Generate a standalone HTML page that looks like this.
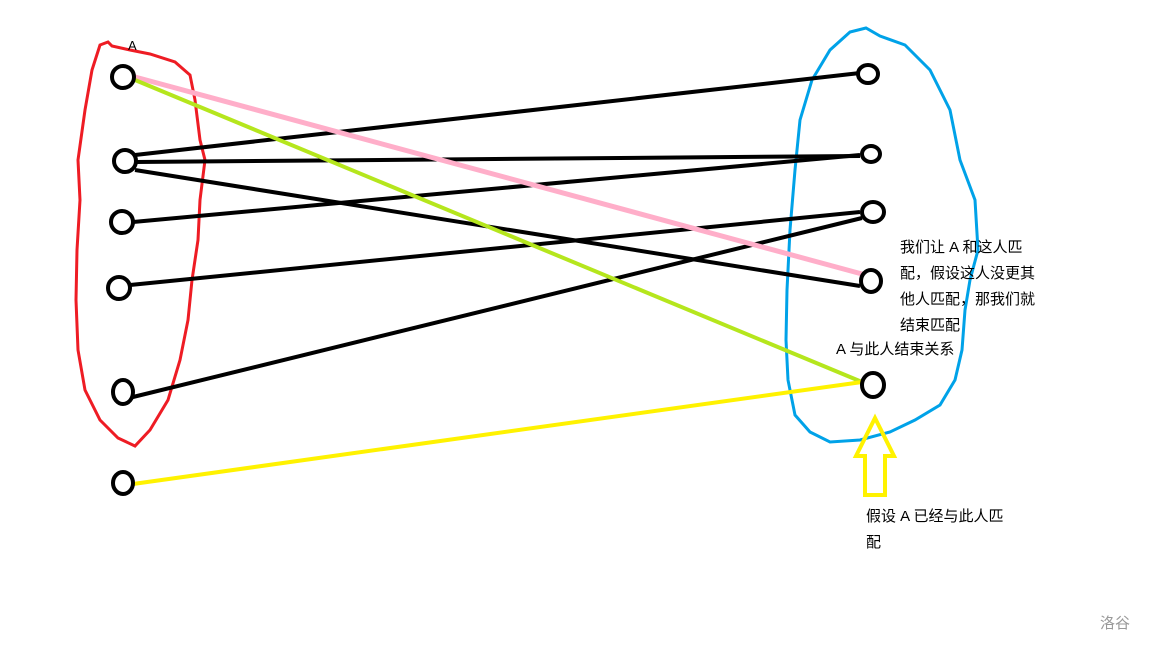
<!DOCTYPE html>
<html><head><meta charset="utf-8"><style>body{margin:0;background:#fff}svg{display:block}text{font-family:"Liberation Sans","Noto Sans CJK SC",sans-serif;font-size:15px;fill:#000}</style></head><body>
<svg width="1152" height="648" viewBox="0 0 1152 648">
<path d="M100,45 L108,42 L112,46 L130,50 L150,54 L175,62 L190,75 L195,100 L200,140 L205,160 L200,200 L198,240 L192,280 L188,320 L180,360 L168,400 L150,430 L135,446 L118,438 L100,420 L85,390 L78,350 L76,300 L77,250 L80,200 L78,160 L85,110 L92,70 Z" fill="none" stroke="#ee1c24" stroke-width="3"/>
<path d="M866,28 L850,32 L830,50 L812,80 L800,120 L795,170 L790,230 L787,290 L786,340 L788,380 L795,415 L810,432 L830,442 L860,440 L890,432 L915,420 L940,405 L955,380 L962,350 L965,310 L970,280 L978,250 L975,200 L960,160 L950,110 L930,70 L905,45 L880,36 Z" fill="none" stroke="#00a2e8" stroke-width="3"/>
<g stroke="#000" stroke-width="4" fill="none">
<line x1="135" y1="155" x2="860" y2="73"/>
<line x1="135" y1="162" x2="860" y2="156"/>
<line x1="135" y1="170" x2="860" y2="286"/>
<line x1="133" y1="222" x2="860" y2="155"/>
<line x1="130" y1="285" x2="860" y2="212"/>
<line x1="133" y1="397" x2="862" y2="218"/>
</g>
<line x1="135" y1="77" x2="862" y2="274" stroke="#ffaec9" stroke-width="5"/>
<line x1="135" y1="80" x2="862" y2="382" stroke="#b5e61d" stroke-width="4"/>
<line x1="133" y1="484" x2="862" y2="382" stroke="#fff200" stroke-width="4"/>
<g stroke="#000" stroke-width="4" fill="#fff">
<ellipse cx="123" cy="77" rx="11" ry="11"/>
<ellipse cx="125" cy="161" rx="11" ry="11"/>
<ellipse cx="122" cy="222" rx="11" ry="11"/>
<ellipse cx="119" cy="288" rx="11" ry="11"/>
<ellipse cx="123" cy="392" rx="10" ry="12"/>
<ellipse cx="123" cy="483" rx="10" ry="11"/>
<ellipse cx="868" cy="74" rx="10" ry="9"/>
<ellipse cx="871" cy="154" rx="9" ry="8"/>
<ellipse cx="873" cy="212" rx="11" ry="10"/>
<ellipse cx="871" cy="281" rx="10" ry="11"/>
<ellipse cx="873" cy="385" rx="11" ry="12"/>
</g>
<path d="M875,418 L894,456 L885,456 L885,495 L865,495 L865,456 L856,456 Z" fill="none" stroke="#fff200" stroke-width="4"/>
<text x="128" y="50" style="font-size:13px">A</text>
<text x="900" y="252">我们让 A 和这人匹</text>
<text x="900" y="278">配，假设这人没更其</text>
<text x="900" y="304">他人匹配，那我们就</text>
<text x="900" y="330">结束匹配</text>
<text x="836" y="354">A 与此人结束关系</text>
<text x="866" y="521">假设 A 已经与此人匹</text>
<text x="866" y="547">配</text>
<text x="1100" y="628" style="fill:#999;font-size:15px">洛谷</text>
</svg>
</body></html>
